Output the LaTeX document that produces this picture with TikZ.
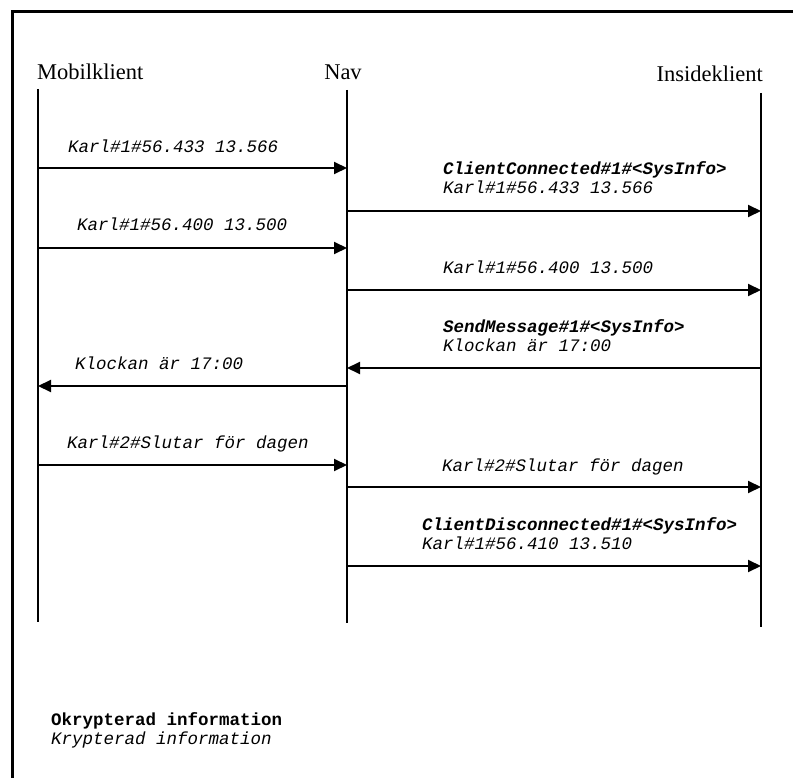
\documentclass[tikz,border=0pt]{standalone}
\usepackage{fontspec}
\setmainfont{Liberation Serif}
\setmonofont{Liberation Mono}
\usetikzlibrary{arrows.meta}
\begin{document}
\begin{tikzpicture}[x=1pt,y=-1pt,
  frame/.style={line width=3pt},
  lifeline/.style={line width=2pt},
  msg/.style={line width=2pt,-{Triangle[length=13pt,width=12pt]}},
  actor/.style={font=\fontsize{22.5}{27}\selectfont, inner sep=0pt},
  lbl/.style={font=\fontsize{17.5}{19}\selectfont\ttfamily\itshape, anchor=base west, inner sep=0pt},
  hdr/.style={lbl, font=\fontsize{17.5}{19}\selectfont\ttfamily\bfseries\itshape},
  plain/.style={lbl, font=\fontsize{17.5}{19}\selectfont\ttfamily\bfseries}]
\useasboundingbox (0,0) rectangle (793,778);

% outer frame (open to the right and bottom)
\draw[frame] (12,778) -- (12,12) -- (793,12);

% participants
\node[actor, anchor=base west] (mob) at (37,80) {Mobilklient};
\node[actor, anchor=base] (nav) at (343,80) {Nav};
\node[actor, anchor=base east] (ins) at (763,82) {Insideklient};

% lifelines
\coordinate (Mtop) at (38,89);  \coordinate (Mbot) at (38,622);
\coordinate (Ntop) at (347,90); \coordinate (Nbot) at (347,623);
\coordinate (Itop) at (761,93); \coordinate (Ibot) at (761,627);
\draw[lifeline] (Mtop) -- (Mbot);
\draw[lifeline] (Ntop) -- (Nbot);
\draw[lifeline] (Itop) -- (Ibot);

% message end points
\coordinate (m1a) at (38,168);  \coordinate (m1b) at (347,168);
\coordinate (m2a) at (347,211); \coordinate (m2b) at (761,211);
\coordinate (m3a) at (38,248);  \coordinate (m3b) at (347,248);
\coordinate (m4a) at (347,290); \coordinate (m4b) at (761,290);
\coordinate (m5a) at (761,368); \coordinate (m5b) at (347,368);
\coordinate (m6a) at (347,386); \coordinate (m6b) at (38,386);
\coordinate (m7a) at (38,465);  \coordinate (m7b) at (347,465);
\coordinate (m8a) at (347,487); \coordinate (m8b) at (761,487);
\coordinate (m9a) at (347,566); \coordinate (m9b) at (761,566);

\draw[msg] (m1a) -- (m1b);
\draw[msg] (m2a) -- (m2b);
\draw[msg] (m3a) -- (m3b);
\draw[msg] (m4a) -- (m4b);
\draw[msg] (m5a) -- (m5b);
\draw[msg] (m6a) -- (m6b);
\draw[msg] (m7a) -- (m7b);
\draw[msg] (m8a) -- (m8b);
\draw[msg] (m9a) -- (m9b);

% message labels
\node[lbl] (l1) at (68,153) {Karl\#1\#56.433 13.566};
\node[hdr] (l2h) at (443,175) {ClientConnected\#1\#<SysInfo>};
\node[lbl] (l2) at (443,194) {Karl\#1\#56.433 13.566};
\node[lbl] (l3) at (77,231) {Karl\#1\#56.400 13.500};
\node[lbl] (l4) at (443,273) {Karl\#1\#56.400 13.500};
\node[hdr] (l5h) at (443,333) {SendMessage\#1\#<SysInfo>};
\node[lbl] (l5) at (443,351) {Klockan är 17:00};
\node[lbl] (l6) at (75,369) {Klockan är 17:00};
\node[lbl] (l7) at (67,448) {Karl\#2\#Slutar för dagen};
\node[lbl] (l8) at (442,471) {Karl\#2\#Slutar för dagen};
\node[hdr] (l9h) at (422,530) {ClientDisconnected\#1\#<SysInfo>};
\node[lbl] (l9) at (422,549) {Karl\#1\#56.410 13.510};

% legend
\node[plain] (leg1) at (51,725) {Okrypterad information};
\node[lbl] (leg2) at (51,744) {Krypterad information};
\end{tikzpicture}
\end{document}
